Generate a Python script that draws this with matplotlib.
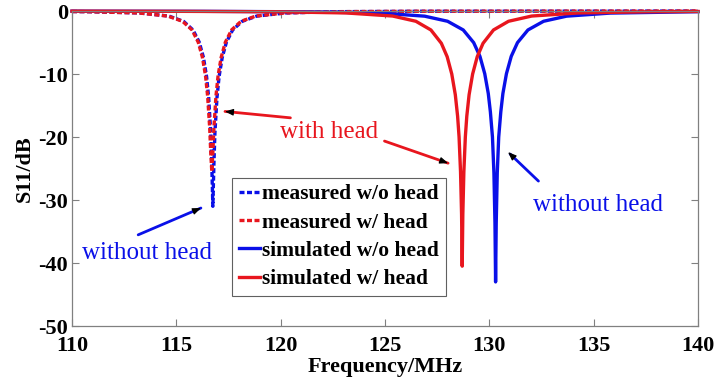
import matplotlib.pyplot as plt

plt.rcParams['font.family'] = ['Liberation Serif', 'DejaVu Serif']
plt.rcParams['axes.unicode_minus'] = False

# frequencies (MHz) and S11 (dB)
meas_wo_f = [110, 110.75, 113.25, 114.65, 115.35, 115.8, 116.1, 116.3, 116.45,
             116.55, 116.65, 116.7, 116.75, 116.8, 116.85, 116.95, 117.05, 117.2, 117.4,
             117.7, 118.15, 118.85, 120.25, 122.75, 126.75, 140]
meas_wo_db = [-0.085, -0.107, -0.31, -0.81, -1.65, -3.01, -4.96, -7.37, -10.4,
              -13.7, -19.3, -24.5, -31.0, -24.5, -19.3, -13.7, -10.4, -7.37, -4.96,
              -3.01, -1.65, -0.81, -0.31, -0.107, -0.039, -0.007]

meas_w_f = [110, 110.7, 113.2, 114.6, 115.3, 115.75, 116.05, 116.25, 116.4, 116.5,
            116.6, 116.65, 116.7, 116.75, 116.8, 116.9, 117.0, 117.15, 117.35, 117.65,
            118.1, 118.8, 120.2, 122.7, 126.7, 140]
meas_w_db = [-0.087, -0.107, -0.31, -0.81, -1.64, -3.0, -4.95, -7.35, -10.3, -13.5,
             -18.6, -22.5, -25.5, -22.5, -18.6, -13.5, -10.3, -7.35, -4.95, -3.0,
             -1.64, -0.81, -0.31, -0.107, -0.039, -0.007]

sim_wo_f = [110, 116.3, 121.3, 124.8, 126.9, 128.0, 128.75, 129.25, 129.55, 129.78,
            129.95, 130.05, 130.15, 130.22, 130.27, 130.3, 130.33, 130.38, 130.45, 130.55,
            130.65, 130.82, 131.05, 131.35, 131.85, 132.6, 133.7, 135.8, 140]
sim_wo_db = [-0.025, -0.053, -0.13, -0.33, -0.82, -1.63, -3.01, -5.02, -7.2, -9.95,
             -13.1, -16.0, -20.0, -25.7, -33.7, -43.0, -33.7, -25.7, -20.0, -16.0,
             -13.1, -9.95, -7.2, -5.02, -3.01, -1.63, -0.82, -0.33, -0.11]

sim_w_f = [110, 115.37, 119.81, 123.14, 125.37, 126.48, 127.2, 127.7, 127.98, 128.2,
           128.37, 128.48, 128.55, 128.62, 128.67, 128.7, 128.73, 128.78, 128.85, 128.92,
           129.03, 129.2, 129.42, 129.7, 130.2, 130.92, 132.03, 134.26, 137.59, 140]
sim_w_db = [-0.023, -0.055, -0.12, -0.31, -0.80, -1.63, -3.01, -5.12, -7.26, -10.0,
            -13.3, -16.7, -20.0, -25.5, -32.3, -40.5, -32.3, -25.5, -20.0, -16.7,
            -13.3, -10.0, -7.26, -5.12, -3.01, -1.63, -0.80, -0.31, -0.12, -0.07]

labels = ['measured w/o head', 'measured w/ head', 'simulated w/o head', 'simulated w/ head']
x_ticks = [110, 115, 120, 125, 130, 135, 140]
y_ticks = [0, -10, -20, -30, -40, -50]

blue = '#0a10e8'
red = '#e8161e'

fig = plt.figure(figsize=(7.17, 3.86), dpi=100)
ax = fig.add_axes([0.1004, 0.1554, 0.8731, 0.8161])

# dashed curves are the measurement, solid ones the simulation
dash = (0, (1.5, 0.75))
ax.plot(meas_wo_f, meas_wo_db, color=blue, lw=2.4, linestyle=dash, label=labels[0], clip_on=False)
ax.plot(meas_w_f, meas_w_db, color=red, lw=2.4, linestyle=dash, label=labels[1], clip_on=False)
ax.plot(sim_wo_f, sim_wo_db, color=blue, lw=2.4, label=labels[2], clip_on=False)
ax.plot(sim_w_f, sim_w_db, color=red, lw=2.4, label=labels[3], clip_on=False)

ax.set_xlim(110, 140)
ax.set_ylim(-50, 0)
ax.set_xticks(x_ticks)
ax.set_yticks(y_ticks)
ax.set_xticklabels([str(t) for t in x_ticks], fontsize=16, fontweight='bold')
ax.set_yticklabels([str(t) for t in y_ticks], fontsize=16, fontweight='bold')
ax.tick_params(direction='in', length=5, width=0.8, color='#808080', top=True, right=True)
ax.tick_params(axis='x', pad=7)
ax.tick_params(axis='y', pad=3)

for s in ax.spines.values():
    s.set_color('#808080')
    s.set_linewidth(0.9)

ax.set_xlabel('Frequency/MHz', fontsize=16, fontweight='bold', labelpad=1)
ax.set_ylabel('S11/dB', fontsize=16, fontweight='bold', labelpad=2)

# legend box in the middle of the plot
leg = ax.legend(loc='upper left', bbox_to_anchor=(0.256, 0.47), prop={'size': 15.5, 'weight': 'bold'},
                handlelength=1.0, handletextpad=0.1, borderpad=0.3, labelspacing=0.38,
                fancybox=False, framealpha=1, borderaxespad=0)
leg.get_frame().set_edgecolor('#606060')
leg.get_frame().set_linewidth(0.8)


def pointer(tail, head, col):
    # coloured shaft with a small black arrow head, like the original
    ax.annotate('', xy=head, xytext=tail, arrowprops=dict(arrowstyle='-', color=col, lw=2))
    hx = head[0] + (tail[0] - head[0]) * 0.12
    hy = head[1] + (tail[1] - head[1]) * 0.12
    ax.annotate('', xy=head, xytext=(hx, hy),
                arrowprops=dict(arrowstyle='-|>,head_length=0.5,head_width=0.2', color='black', lw=0.8))


ax.text(122.3, -19.2, 'with head', color=red, fontsize=18, ha='center', va='center')
pointer((120.6, -17.0), (117.2, -15.9), red)
pointer((124.85, -20.5), (128.15, -24.3), red)

ax.text(113.6, -38.4, 'without head', color=blue, fontsize=18, ha='center', va='center')
pointer((113.05, -35.7), (116.3, -31.1), blue)

ax.text(135.2, -30.8, 'without head', color=blue, fontsize=18, ha='center', va='center')
pointer((132.45, -27.3), (130.9, -22.4), blue)

plt.savefig('out.png', dpi=100)
